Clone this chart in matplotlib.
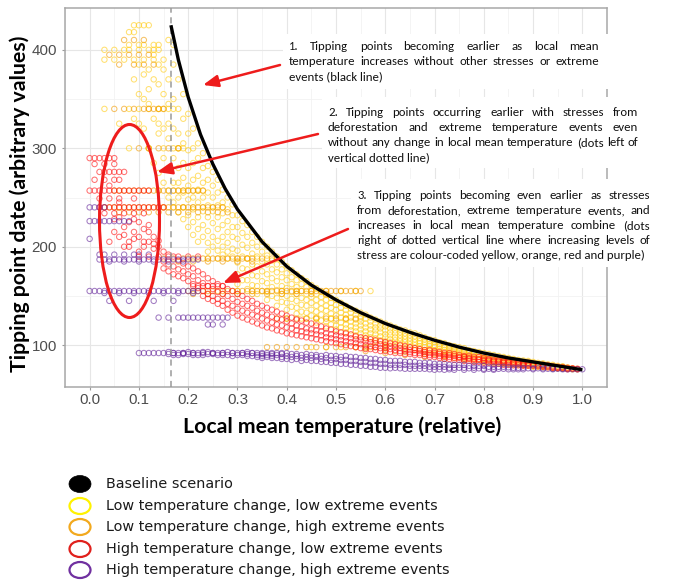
import numpy as np
import matplotlib
matplotlib.use("Agg")
import matplotlib.pyplot as plt
from matplotlib import font_manager
from matplotlib.patches import Ellipse, Rectangle, FancyArrowPatch
from matplotlib.font_manager import FontProperties

# ------------------------------------------------------------------ data
baseline_x = [0.165, 0.18, 0.20, 0.225, 0.25, 0.275, 0.30, 0.35, 0.40, 0.45, 0.50,
              0.55, 0.60, 0.65, 0.70, 0.75, 0.80, 0.85, 0.90, 0.95, 1.00]
baseline_y = [425, 390, 352, 314, 284, 259, 238, 205, 180, 161, 146,
              133, 122, 113, 105, 98, 92, 87, 83, 79, 75]
dotted_x = 0.165

x_ticks = [0.0, 0.1, 0.2, 0.3, 0.4, 0.5, 0.6, 0.7, 0.8, 0.9, 1.0]
x_tick_labels = ["0.0", "0.1", "0.2", "0.3", "0.4", "0.5", "0.6", "0.7", "0.8", "0.9", "1.0"]
y_ticks = [100, 200, 300, 400]

# horizontal bands: (y value, x positions in hundredths)
yellow_bands = [
    (425, [9, 10, 11, 12]),
    (418, [8, 9]),
    (405, [8, 10, 11, 13, 14]),
    (400, [3, 5, 7, 8, 10, 12, 13, 14]),
    (390, [3, 5, 7, 9, 11, 13, 15]),
    (340, [3, 8, 10, 12, 14, 15, 16, 17]),
    (325, [6, 10, 14, 16]),
    (300, [8, 12, 15, 17, 18, 19]),
    (257, [14, 16, 17, 18, 19, 20, 21, 22, 23]),
    (240, [15, 17, 19, 21, 23, 25, 27]),
    (188, [24, 26, 28, 30, 32, 34, 36, 38]),
    (155, [30, 33, 36, 39, 42, 45, 48, 51, 54, 57]),
    (127, [40, 43, 46, 49, 52, 55]),
    (98, [45, 48, 51, 54, 57, 60]),
]
# vertical columns: (x value, y values)
yellow_cols = [
    (0.09, [370, 330]), (0.10, [385, 355]), (0.11, [375, 350, 320]),
    (0.12, [380, 360, 345, 300]), (0.13, [395, 370, 330, 285]),
    (0.14, [385, 365, 340, 315, 275]), (0.15, [380, 355, 320, 290, 265]),
    (0.16, [410, 370, 345, 310, 280, 250]),
    (0.17, [405, 385, 350, 320, 290, 265, 245]),
    (0.18, [370, 340, 315, 300, 280, 265, 250, 235]),
    (0.19, [355, 330, 305, 285, 270, 255, 240, 228]),
    (0.20, [335, 315, 298, 280, 262, 248, 232, 220]),
    (0.21, [320, 300, 285, 268, 250, 238, 225, 212]),
    (0.22, [305, 290, 272, 258, 245, 230, 218, 205]),
    (0.23, [295, 280, 265, 250, 236, 222, 210]),
    (0.24, [282, 268, 255, 242, 230, 216, 204, 195]),
    (0.25, [276, 262, 250, 236, 224, 210, 200]),
    (0.26, [268, 255, 242, 230, 218, 206, 196]),
    (0.27, [258, 245, 234, 222, 210, 200, 192]),
    (0.28, [250, 238, 226, 215, 204, 195]),
    (0.29, [243, 232, 220, 210, 198, 190]),
    (0.30, [232, 220, 208, 196, 184, 172, 162]),
    (0.31, [226, 214, 202, 190, 178, 166]),
    (0.32, [222, 210, 199, 188, 177, 166, 157]),
    (0.33, [215, 204, 193, 182, 171, 161]),
    (0.34, [210, 200, 190, 180, 170, 160, 152]),
    (0.35, [205, 195, 185, 175, 165, 155]),
    (0.36, [200, 191, 182, 172, 163, 154, 146]),
    (0.37, [195, 186, 177, 168, 159, 150]),
    (0.38, [190, 182, 174, 165, 156, 148, 140]),
    (0.39, [185, 177, 169, 160, 152, 144]),
    (0.40, [180, 173, 166, 158, 150, 143, 136]),
    (0.41, [176, 169, 162, 154, 147, 139]),
    (0.42, [172, 166, 159, 152, 145, 138, 132]),
    (0.43, [168, 162, 155, 148, 141, 134]),
    (0.44, [165, 159, 152, 146, 140, 133, 127]),
    (0.45, [161, 155, 149, 143, 136, 130]),
    (0.46, [158, 152, 146, 140, 134, 128, 123]),
    (0.47, [154, 149, 143, 137, 131, 125]),
    (0.48, [151, 146, 140, 135, 129, 124, 119]),
    (0.49, [148, 143, 138, 132, 127, 121]),
    (0.50, [146, 141, 136, 130, 125, 120, 116]),
    (0.51, [143, 138, 133, 128, 123, 118]),
    (0.52, [140, 136, 131, 126, 121, 117, 113]),
    (0.53, [137, 133, 128, 124, 119, 115]),
    (0.54, [135, 131, 126, 122, 118, 114, 110]),
    (0.55, [133, 129, 124, 120, 116, 112]),
    (0.56, [131, 127, 122, 118, 114, 110, 107]),
    (0.57, [128, 124, 120, 116, 112, 108]),
    (0.58, [126, 122, 118, 115, 111, 107, 104]),
    (0.59, [124, 120, 117, 113, 109, 105]),
    (0.60, [122, 119, 115, 111, 108, 104, 101]),
    (0.61, [120, 117, 113, 110, 106, 103]),
    (0.62, [118, 115, 112, 108, 105, 102, 99]),
    (0.63, [116, 113, 110, 107, 104, 101]),
    (0.64, [115, 112, 109, 106, 103, 100, 97]),
    (0.65, [113, 110, 107, 104, 101, 98]),
    (0.66, [112, 109, 106, 103, 100, 97, 95]),
    (0.67, [110, 107, 104, 102, 99, 96]),
    (0.68, [108, 106, 103, 100, 98, 95, 93]),
    (0.69, [106, 104, 101, 99, 96, 94]),
    (0.70, [105, 103, 100, 98, 95, 93, 91]),
    (0.71, [103, 101, 99, 96, 94, 92]),
    (0.72, [102, 100, 98, 95, 93, 91, 89]),
    (0.73, [100, 98, 96, 94, 92, 90]),
    (0.74, [99, 97, 95, 93, 91, 89, 87]),
    (0.75, [98, 96, 94, 92, 90, 88]),
    (0.76, [97, 95, 93, 91, 89, 87, 86]),
    (0.77, [95, 93, 92, 90, 88, 86]),
    (0.78, [94, 92, 91, 89, 87, 86, 84]),
    (0.79, [93, 91, 90, 88, 86, 85]),
    (0.80, [92, 90, 89, 87, 86, 84, 83]),
    (0.81, [91, 89, 88, 86, 85, 83]),
    (0.82, [90, 88, 87, 86, 84, 83, 82]),
    (0.83, [89, 87, 86, 85, 83, 82]),
    (0.84, [88, 87, 85, 84, 83, 82, 81]),
    (0.85, [87, 86, 85, 83, 82, 81]),
    (0.86, [86, 85, 84, 83, 82, 81, 80]),
    (0.87, [85, 84, 83, 82, 81, 80]),
    (0.88, [84.5, 83.5, 82.5, 81.5, 80.5, 79.5]),
    (0.89, [84, 83, 82, 81, 80, 79]),
    (0.90, [83, 82, 81, 80, 79, 78]),
    (0.91, [82, 81, 80, 79, 78]),
    (0.92, [81.5, 80.5, 79.5, 78.5, 77.5]),
    (0.93, [80.5, 79.5, 78.5, 77.5]),
    (0.94, [80, 79, 78, 77, 76.5]),
    (0.95, [79, 78, 77, 76.5]),
    (0.96, [78.5, 77.5, 77, 76]),
    (0.97, [77.5, 76.5, 76]),
    (0.98, [76.5, 76, 75.5]),
    (0.99, [76, 75.5]),
]

orange_bands = [
    (410, [7, 9, 11]),
    (395, [4, 6, 8, 10, 12]),
    (385, [6, 9, 11, 13]),
    (340, [5, 7, 9, 11, 12, 13, 14, 15]),
    (300, [10, 12, 14, 16, 18]),
    (257, [5, 6, 7, 8, 9, 10, 11, 12, 13, 14, 15, 16, 17, 18, 19, 20, 21, 22, 23]),
    (240, [3, 4, 5, 6, 7, 8, 9, 10, 11, 12, 13, 14, 15, 16, 17, 18, 19, 20, 21, 22,
           23, 24, 25, 26, 27]),
    (235, [6, 8, 10, 12, 14, 16, 18, 20, 22, 24, 26, 28]),
    (188, [15, 17, 19, 20, 21, 22, 23, 24, 25, 26, 27, 28, 29, 30, 31, 32, 33, 35, 37]),
    (185, [18, 21, 24, 27, 30, 33]),
    (155, [20, 21, 22, 23, 24, 25, 26, 27, 28, 29, 30, 31, 32, 33, 34, 35, 36, 37, 38,
           39, 40, 41, 42, 43, 44, 45, 46, 47, 48, 49, 50, 51, 52, 53, 54, 55]),
    (152, [21, 24, 27, 30, 33, 36, 39, 42, 45, 48]),
    (127, [38, 40, 42, 44, 46, 48, 50, 52, 54]),
    (98, [36, 38, 40, 42, 44, 46, 48, 50, 52, 54, 56, 58, 60]),
]
orange_cols = [
    (0.56, [97, 94]), (0.60, [95, 92]), (0.62, [94]), (0.64, [93, 90]),
    (0.68, [91, 88]), (0.72, [89, 86]), (0.76, [88, 85]), (0.80, [86, 84]),
    (0.84, [84, 82]), (0.88, [82, 80]), (0.92, [80, 78.5]), (0.96, [78, 77]),
]

red_bands = [
    (290, [0, 1, 2, 3, 4, 5]),
    (284, [1, 3, 5]),
    (276, [2, 3, 4, 5, 6, 7]),
    (268, [1, 3, 5, 6]),
    (257, [0, 1, 2, 3, 4, 5, 6, 7, 8, 9, 10, 11, 12]),
    (249, [2, 4, 6, 9]),
    (240, [2, 3, 4, 5, 6, 7, 8, 9, 10, 11, 12, 13, 14, 15]),
    (234, [3, 5, 7, 9, 11]),
    (190, [10, 12, 14, 16, 18, 20, 22]),
    (160, [21, 22, 23, 24, 25, 26, 27]),
]
red_cols = [
    (0.04, [205, 262]), (0.05, [215, 228]), (0.06, [210, 230, 245]),
    (0.07, [200, 212, 220]), (0.08, [200, 205, 225]), (0.09, [208, 215, 228]),
    (0.10, [195, 210, 225]), (0.11, [200, 205, 218]), (0.12, [205, 215, 222]),
    (0.13, [198, 203, 210]), (0.14, [200, 206]),
    (0.15, [195, 185, 178]), (0.16, [192, 182, 175]), (0.17, [190, 180, 172]),
    (0.18, [186, 177, 170]), (0.19, [183, 175, 168]), (0.20, [180, 172, 165]),
    (0.21, [178, 170, 162]), (0.22, [175, 166, 158]), (0.23, [172, 163, 155, 150]),
    (0.24, [168, 160, 152, 147]), (0.25, [165, 157, 150, 145]),
    (0.26, [162, 154, 147, 142]), (0.27, [160, 152, 145, 140]),
    (0.28, [157, 150, 142, 136]), (0.29, [155, 147, 140, 133]),
    (0.30, [152, 144, 137, 130]), (0.31, [150, 142, 135, 128]),
    (0.32, [147, 140, 133, 126]), (0.33, [145, 138, 131, 124]),
    (0.34, [142, 135, 129, 122]), (0.35, [140, 133, 127, 120]),
    (0.36, [138, 131, 125, 118]), (0.37, [136, 129, 123, 117]),
    (0.38, [134, 127, 121, 115]), (0.39, [132, 126, 120, 114]),
    (0.40, [130, 124, 118, 112]), (0.41, [128, 122, 117, 111]),
    (0.42, [126, 120, 115, 110]), (0.43, [125, 119, 114, 109]),
    (0.44, [123, 117, 113, 108]), (0.45, [122, 116, 112, 107]),
    (0.46, [120, 115, 111, 106]), (0.47, [119, 114, 110, 105]),
    (0.48, [117, 112, 108, 104]), (0.49, [116, 111, 107, 103]),
    (0.50, [114, 110, 106, 102]), (0.51, [113, 109, 105, 101]),
    (0.52, [112, 108, 104, 100]), (0.53, [111, 107, 103, 99]),
    (0.54, [109, 106, 102, 98]), (0.55, [108, 105, 101, 97]),
    (0.56, [107, 104, 100, 96]), (0.57, [106, 103, 99, 96]),
    (0.58, [105, 102, 98, 95]), (0.59, [104, 101, 97, 94]),
    (0.60, [103, 100, 97, 94]), (0.61, [102, 99, 96, 93]),
    (0.62, [101, 98, 95, 92]), (0.63, [100, 97, 94, 92]),
    (0.64, [99, 96, 94, 91]), (0.65, [98, 95, 93, 91]),
    (0.66, [97, 95, 92, 90]), (0.67, [96, 94, 92, 90]),
    (0.68, [95, 93, 91, 89]), (0.69, [95, 92, 90, 88]),
    (0.70, [94, 92, 90, 88]), (0.71, [93, 91, 89, 87]),
    (0.72, [92, 90, 88, 86]), (0.73, [92, 90, 88, 86]),
    (0.74, [91, 89, 87, 85]), (0.75, [90, 88, 87, 85]),
    (0.76, [89, 88, 86, 84]), (0.77, [89, 87, 86, 84]),
    (0.78, [88, 86, 85, 83]), (0.79, [88, 86, 85, 83]),
    (0.80, [87, 85, 84, 82]), (0.81, [86, 85, 84, 82]),
    (0.82, [85, 84, 83, 81]), (0.83, [85, 84, 83, 81]),
    (0.84, [84, 83, 82, 80]), (0.85, [84, 83, 82, 80]),
    (0.86, [83, 82, 81, 79.5]), (0.87, [83, 82, 81, 79.5]),
    (0.88, [82, 81, 80, 79]), (0.89, [82, 81, 80, 79]),
    (0.90, [81, 80, 79]), (0.91, [80.5, 79.5, 78.5]),
    (0.92, [80, 79, 78]), (0.93, [79.5, 78.5, 77.5]),
    (0.94, [78.5, 77.5, 77]), (0.95, [78, 77, 76.5]),
    (0.96, [77.5, 76.5]), (0.97, [77, 76, 75.5]),
    (0.98, [76.5, 76]), (0.99, [76, 75.5]),
]

purple_bands = [
    (240, [0, 1, 2, 3]),
    (226, [0, 1, 2, 3, 4, 5, 6, 7, 8]),
    (208, [0]),
    (192, [2, 3, 5, 7, 9, 10, 12]),
    (187, [2, 3, 4, 5, 6, 7, 8, 9, 10, 11, 12, 13, 14, 15, 16, 17, 18, 19, 20, 21, 22]),
    (185, [4, 7, 10, 13, 16, 19]),
    (155, [0, 1, 2, 3, 4, 5, 6, 7, 8, 9, 10, 11, 12, 13, 14, 15, 16, 17, 18, 19, 20, 21, 22]),
    (153, [3, 6, 9, 12, 15, 18, 21]),
    (145, [4, 8, 13, 17]),
    (128, [14, 16, 18, 19, 20, 21, 22, 23, 24, 25, 26, 27, 28]),
    (121, [24, 25, 27]),
    (92, [10, 11, 12, 13, 14, 15, 17, 19, 21, 23, 25, 27, 29, 31, 33, 35, 37, 39]),
]
purple_cols = [
    (0.16, [93, 91]), (0.17, [92, 90]), (0.18, [92, 90]), (0.19, [92, 91]),
    (0.20, [93, 91]), (0.21, [92, 90]), (0.22, [92, 90]), (0.23, [93, 90]),
    (0.24, [93, 91]), (0.25, [92, 91]), (0.26, [92, 90]), (0.27, [92, 90]),
    (0.28, [93, 90]), (0.29, [92, 89]), (0.30, [92, 90]), (0.31, [92, 90]),
    (0.32, [93, 91, 89]), (0.33, [92, 89]), (0.34, [92, 90, 88]),
    (0.35, [91, 89, 87]), (0.36, [92, 90, 88]), (0.37, [91, 89, 87]),
    (0.38, [92, 90, 87]), (0.39, [91, 88, 86]), (0.40, [92, 89, 86]),
    (0.41, [91, 88, 85]), (0.42, [91, 89, 86]), (0.43, [90, 87, 84]),
    (0.44, [91, 88, 85]), (0.45, [90, 87, 84]), (0.46, [90, 88, 84]),
    (0.47, [89, 86, 83]), (0.48, [90, 87, 83]), (0.49, [89, 85, 82]),
    (0.50, [89, 86, 82]), (0.51, [88, 85, 81]), (0.52, [89, 85, 81]),
    (0.53, [88, 84, 80]), (0.54, [88, 84, 80]), (0.55, [87, 83, 79]),
    (0.56, [87, 83, 79]), (0.57, [86, 82, 78]), (0.58, [86, 82, 78]),
    (0.59, [85, 81, 77]), (0.60, [85, 81, 77]), (0.61, [84, 80, 76.5]),
    (0.62, [84, 80, 77]), (0.63, [84, 80, 76.5]), (0.64, [83, 80, 76]),
    (0.65, [83, 79, 76]), (0.66, [83, 79, 76]), (0.67, [82, 79, 76]),
    (0.68, [82, 79, 76]), (0.69, [82, 78, 75.5]), (0.70, [81, 78, 75]),
    (0.71, [81, 78, 75.5]), (0.72, [81, 78, 75]), (0.73, [80, 77, 75.5]),
    (0.74, [80, 77, 75]), (0.75, [80, 77]), (0.76, [80, 77, 75]),
    (0.77, [79, 76.5]), (0.78, [79, 77, 75]), (0.79, [79, 76.5]),
    (0.80, [79, 76, 75]), (0.81, [78, 76]), (0.82, [78, 76, 75]),
    (0.83, [78, 76]), (0.84, [78, 76]), (0.85, [77.5, 75.5]),
    (0.86, [77, 75.5]), (0.87, [77, 75.5]), (0.88, [77, 75.5]),
    (0.89, [76.5]), (0.90, [76.5, 75.5]), (0.91, [76.5]), (0.92, [76.5, 75.5]),
    (0.93, [76]), (0.94, [76, 75.5]), (0.95, [76]), (0.96, [76, 75.5]),
    (0.97, [75.5]), (0.98, [75.5]), (0.99, [75.5]), (1.00, [75.5]),
]

legend_labels = ["Baseline scenario",
                 "Low temperature change, low extreme events",
                 "Low temperature change, high extreme events",
                 "High temperature change, low extreme events",
                 "High temperature change, high extreme events"]

note1 = ["1.  Tipping points becoming earlier as local mean",
         "temperature increases without other stresses or extreme",
         "events (black line)"]
note2 = ["2. Tipping points occurring earlier with stresses from",
         "deforestation and extreme temperature events even",
         "without any change in local mean temperature (dots left of",
         "vertical dotted line)"]
note3 = ["3. Tipping points becoming even earlier as stresses",
         "from deforestation, extreme  temperature events, and",
         "increases in local mean temperature combine (dots",
         "right of dotted vertical line where increasing levels of",
         "stress are colour-coded yellow, orange, red and purple)"]

# ------------------------------------------------------------------ helpers
def expand(bands, cols):
    xs, ys = [], []
    for yv, xl in bands:
        for xh in xl:
            xs.append(xh / 100.0)
            ys.append(yv)
    for xv, yl in cols:
        for yv in yl:
            xs.append(xv)
            ys.append(yv)
    return np.array(xs), np.array(ys)

installed = {f.name for f in font_manager.fontManager.ttflist}
ann_family = "Carlito" if "Carlito" in installed else "Lato"

W, H = 680, 581
fig = plt.figure(figsize=(W / 100, H / 100), dpi=100)
fig.patch.set_facecolor("white")

# main panel (pixel box: left 65, right 607, top 8, bottom 387)
L, R_, T, B = 65, 607, 8, 387
ax = fig.add_axes([L / W, 1 - B / H, (R_ - L) / W, (B - T) / H])
ax.set_xlim(-0.05, 1.05)
ax.set_ylim(57.5, 442.5)
ax.set_xticks(x_ticks)
ax.set_xticklabels(x_tick_labels)
ax.set_yticks(y_ticks)
ax.set_xticks([-0.05, 0.05, 0.15, 0.25, 0.35, 0.45, 0.55, 0.65, 0.75, 0.85, 0.95, 1.05], minor=True)
ax.set_yticks([150, 250, 350], minor=True)
ax.grid(which="major", color="#E6E6E6", lw=0.8, zorder=0)
ax.grid(which="minor", color="#F2F2F2", lw=0.6, zorder=0)
ax.set_axisbelow(True)
ax.tick_params(which="minor", length=0)
ax.tick_params(which="major", color="#9A9A9A", labelcolor="#4D4D4D", length=2.5,
               width=0.8)
ax.tick_params(axis="x", pad=2.0)
ax.tick_params(axis="y", pad=3.2)
for lab in ax.get_xticklabels() + ax.get_yticklabels():
    lab.set_fontfamily("Liberation Sans")
    lab.set_fontsize(10.9)
for sp in ax.spines.values():
    sp.set_color("#A8A8A8")
    sp.set_linewidth(1.1)

series = [
    (yellow_bands, yellow_cols, "#FFCC14"),
    (orange_bands, orange_cols, "#F09A00"),
    (red_bands, red_cols, "#FF1414"),
    (purple_bands, purple_cols, "#64259A"),
]
for bands, cols, col in series:
    xs, ys = expand(bands, cols)
    ax.scatter(xs, ys, s=15, facecolors="none", edgecolors=col, linewidths=0.75,
               alpha=0.6, zorder=2)

ax.axvline(dotted_x, color="#9A9A9A", ls=(0, (4, 3)), lw=1.1, zorder=3)
ax.plot(baseline_x, baseline_y, color="black", lw=2.4, zorder=4,
        solid_capstyle="butt")

# ------------------------------------------------------------------ overlay in pixel units
ov = fig.add_axes([0, 0, 1, 1])
ov.set_xlim(0, W)
ov.set_ylim(H, 0)
ov.axis("off")
ov.patch.set_alpha(0)
ov.set_zorder(5)

fig.canvas.draw()
RND = fig.canvas.get_renderer()

def tw(s, fp):
    w, h, d = RND.get_text_width_height_descent(s, fp, ismath=False)
    return w

def fit(family, weight, s, target):
    fp = FontProperties(family=family, weight=weight, size=10)
    return 10 * target / tw(s, fp)

# axis titles
ttl_x = "Local mean temperature (relative)"
ttl_y = "Tipping point date (arbitrary values)"
fsx = fit("Lato", "bold", ttl_x, 319)
fsy = fit("Lato", "bold", ttl_y, 338)
ov.text(342, 427, ttl_x, family="Lato", weight="bold", size=fsx, ha="center",
        va="center", color="black")
ov.text(20, 204, ttl_y, family="Lato", weight="bold", size=fsy, ha="center",
        va="center", rotation=90, color="black")

# annotation boxes (justified text)
boxes = [(note1, 289, 599, 50), (note2, 328, 638, 116), (note3, 357, 650, 199)]
fp10 = FontProperties(family=ann_family, size=10)
cands = [fit(ann_family, "normal", note3[-1], 293)]
for lines, x0, x1, _ in boxes:
    for ln in lines[:-1]:
        words = ln.split()
        natural = sum(tw(wd, fp10) for wd in words)
        # leave at least ~3 px between words at the final size
        cands.append(10 * ((x1 - x0) - 3.0 * (len(words) - 1)) / natural)
fs_ann = min(cands)
fp_ann = FontProperties(family=ann_family, size=fs_ann)

def justified(lines, x0, x1, y0, lh):
    for i, line in enumerate(lines):
        y = y0 + i * lh
        words = line.split()
        if i == len(lines) - 1:
            ov.text(x0, y, line, fontproperties=fp_ann, va="baseline", ha="left",
                    color="#111111")
            continue
        widths = [tw(wd, fp_ann) for wd in words]
        gap = (x1 - x0 - sum(widths)) / (len(words) - 1)
        xx = x0
        for wd, wdt in zip(words, widths):
            ov.text(xx, y, wd, fontproperties=fp_ann, va="baseline", ha="left",
                    color="#111111")
            xx += wdt + gap

for (bx, by, bw, bh) in [(283, 34, 330, 55), (322, 97, 325, 71), (351, 179, 306, 88)]:
    ov.add_patch(Rectangle((bx, by), bw, bh, facecolor="white", edgecolor="none",
                           zorder=1))
for lines, x0, x1, y0 in boxes:
    justified(lines, x0, x1, y0, 15)

# red ellipse and arrows
red = "#EE1C1C"
ov.add_patch(Ellipse((129.5, 221), 60, 193, fill=False, edgecolor=red, lw=2.2,
                     zorder=3))
for tail, tip in [((280, 65), (203, 85)), ((318, 134), (157, 172)),
                  ((348, 229), (223, 283))]:
    ov.add_patch(FancyArrowPatch(tail, tip,
                                 arrowstyle="-|>,head_length=9,head_width=3.6",
                                 mutation_scale=1, color=red, lw=1.8,
                                 shrinkA=0, shrinkB=0, zorder=3))

# legend (drawn below the panel)
leg_rows = [484, 506, 527, 549, 570]
leg_faces = ["black", "none", "none", "none", "none"]
leg_edges = ["black", "#FFF200", "#F2A91E", "#E0201C", "#7030A0"]
fs_leg = fit("DejaVu Sans", "normal", legend_labels[-1], 344)
for yv, lab, fc, ec in zip(leg_rows, legend_labels, leg_faces, leg_edges):
    if fc == "black":
        ov.add_patch(Ellipse((80, yv), 22, 17, facecolor="black", edgecolor="black",
                             lw=0.5))
    else:
        ov.add_patch(Ellipse((80, yv), 21, 16, facecolor="none", edgecolor=ec, lw=1.6))
    ov.text(106, yv, lab, family="DejaVu Sans", size=fs_leg, va="center", ha="left",
            color="#1A1A1A")

fig.savefig("out.png", dpi=100)
